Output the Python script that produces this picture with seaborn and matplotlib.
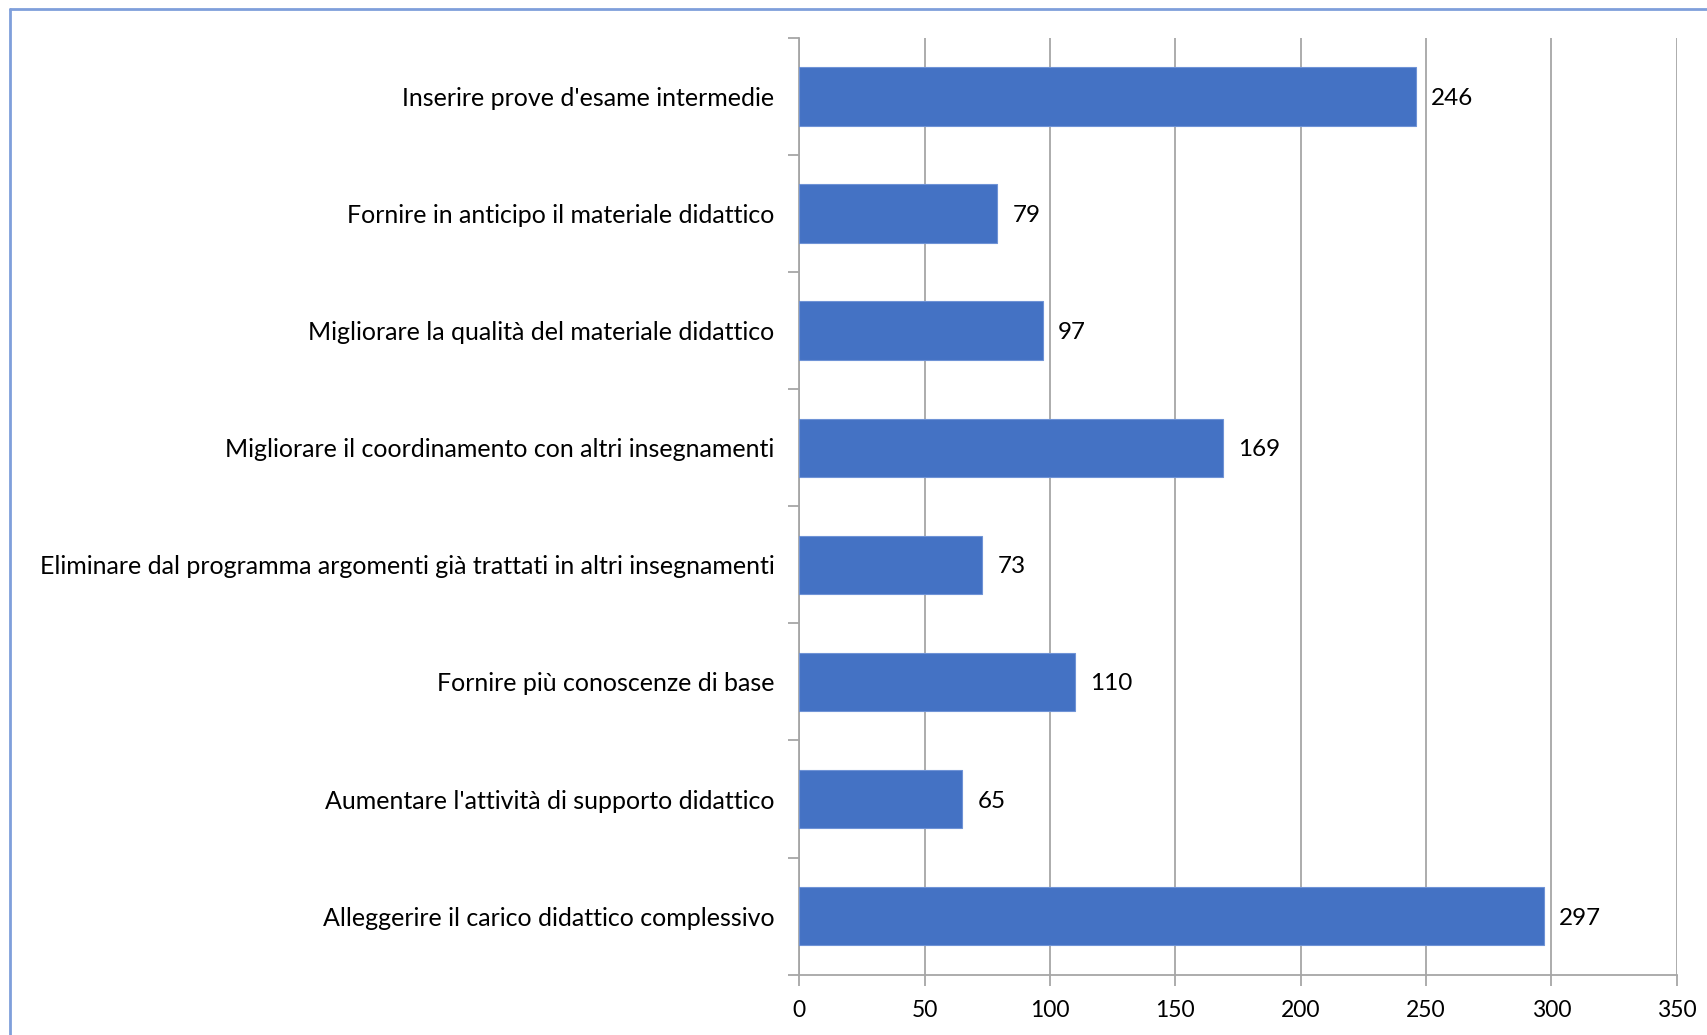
import matplotlib
matplotlib.use("Agg")
import matplotlib.pyplot as plt
import seaborn as sns
import pandas as pd
import numpy as np
from matplotlib.lines import Line2D

categories = [
    "Inserire prove d'esame intermedie",
    "Fornire in anticipo il materiale didattico",
    "Migliorare la qualità del materiale didattico",
    "Migliorare il coordinamento con altri insegnamenti",
    "Eliminare dal programma argomenti già trattati in altri insegnamenti",
    "Fornire più conoscenze di base",
    "Aumentare l'attività di supporto didattico",
    "Alleggerire il carico didattico complessivo",
]
values = [246, 79, 97, 169, 73, 110, 65, 297]
x_ticks = [0, 50, 100, 150, 200, 250, 300, 350]

sns.set_theme(style="white")
plt.rcParams['font.family'] = ['Lato', 'DejaVu Sans']

df = pd.DataFrame({"cat": categories, "val": values})

fig = plt.figure(figsize=(17.08, 10.35), dpi=100)
ax = fig.add_axes([0.468, 0.0583, 0.9817 - 0.468, 0.9633 - 0.0583])

bar_color = "#4472C4"
sns.barplot(data=df, y="cat", x="val", orient="h", color=bar_color,
            width=0.5, edgecolor="#6f93d6", linewidth=0.8, ax=ax, zorder=3,
            saturation=1)

ax.set_xlim(0, 350)
ax.set_ylim(len(categories) - 0.5, -0.5)
ax.set_xticks(x_ticks)
ax.set_xticklabels([str(t) for t in x_ticks], fontsize=16.5, color="black")
ax.set_xlabel("")
ax.set_ylabel("")

grid_col = "#a6a6a6"
ax.xaxis.grid(True, color=grid_col, linewidth=1.3, zorder=0)
ax.set_axisbelow(True)

# y labels
ax.set_yticks(range(len(categories)))
ax.set_yticklabels(categories, fontsize=18, color="black")
ax.tick_params(axis="y", which="major", length=0, pad=18)
ax.set_yticks(np.arange(-0.5, len(categories), 1.0), minor=True)
ax.tick_params(axis="y", which="minor", length=8, width=1.3, color=grid_col, left=True)
ax.tick_params(axis="x", which="major", length=8, width=1.3, color=grid_col, bottom=True, pad=10)

for side in ["top", "right"]:
    ax.spines[side].set_visible(False)
for side in ["left", "bottom"]:
    ax.spines[side].set_visible(True)
    ax.spines[side].set_color(grid_col)
    ax.spines[side].set_linewidth(1.3)

for i, v in enumerate(values):
    ax.annotate(str(v), xy=(v, i), xytext=(11, 0), textcoords="offset points",
                ha="left", va="center_baseline", fontsize=17.5, color="black")

# outer frame (partially visible: top and left)
fw, fh = 1708, 1035
border_col = "#7f9fdb"
fig.add_artist(Line2D([10 / fw, 10 / fw], [0, 1 - 9 / fh], transform=fig.transFigure,
                      color=border_col, linewidth=2))
fig.add_artist(Line2D([10 / fw, 1], [1 - 9 / fh, 1 - 9 / fh], transform=fig.transFigure,
                      color=border_col, linewidth=2))

fig.savefig("out.png", dpi=100, facecolor="white")
